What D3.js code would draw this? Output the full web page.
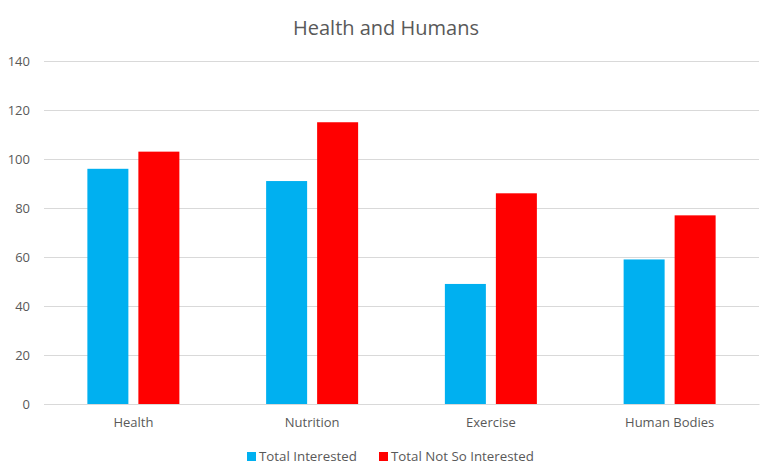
<!DOCTYPE html>
<html><head><meta charset="utf-8">
<script src="https://cdn.jsdelivr.net/npm/d3@7"></script>
<style>body{margin:0;background:#fff}svg{display:block}</style>
</head><body>
<svg id="c" width="768" height="476"></svg>
<script>
const categories = ["Health", "Nutrition", "Exercise", "Human Bodies"];
const seriesNames = ["Total Interested", "Total Not So Interested"];
const interested = [96, 91, 49, 59];
const notInterested = [103, 115, 86, 77];
const yTicks = [0, 20, 40, 60, 80, 100, 120, 140];
const colors = ["#00b0f0", "#ff0000"];

const svg = d3.select("#c");
const font = "'Open Sans', 'Liberation Sans', sans-serif";
const m = {l: 44, r: 9, t: 61, b: 72};
const W = 768, H = 476;
const x0 = d3.scaleBand().domain(categories).range([m.l, W - m.r]).padding(0);
const y = d3.scaleLinear().domain([0, 140]).range([H - m.b, m.t]);
const bw = x0.bandwidth();
const x1 = d3.scaleBand().domain(seriesNames).range([bw/2 - 46, bw/2 + 46]).paddingInner(10/51).paddingOuter(0);

svg.append("text").attr("x", 386).attr("y", 35).attr("text-anchor", "middle")
  .attr("font-family", font).attr("font-size", 20).attr("fill", "#595959").text("Health and Humans");

const yAxis = d3.axisLeft(y).tickValues(yTicks).tickSize(-(W - m.l - m.r)).tickPadding(14);
const gy = svg.append("g").attr("transform", `translate(${m.l},0)`).call(yAxis);
gy.select(".domain").remove();
gy.selectAll(".tick line").attr("stroke", "#d9d9d9").attr("stroke-width", 1);
gy.selectAll(".tick text").attr("font-family", font).attr("font-size", 13).attr("fill", "#595959");

const data = categories.map((c, i) => ({c, vals: [interested[i], notInterested[i]]}));
const g = svg.append("g");
const groups = g.selectAll("g").data(data).join("g").attr("transform", d => `translate(${x0(d.c)},0)`);
groups.selectAll("rect").data(d => d.vals.map((v, j) => ({s: seriesNames[j], v, j})))
  .join("rect")
  .attr("x", d => x1(d.s)).attr("width", x1.bandwidth())
  .attr("y", d => y(d.v)).attr("height", d => y(0) - y(d.v))
  .attr("fill", d => colors[d.j]);

const xAxis = d3.axisBottom(x0).tickSize(0).tickPadding(14);
const gx = svg.append("g").attr("transform", `translate(0,${y(0)})`).call(xAxis);
gx.select(".domain").attr("stroke", "#d9d9d9");
gx.selectAll(".tick text").attr("font-family", font).attr("font-size", 13).attr("fill", "#595959");

const legX = [247, 379];
const leg = svg.append("g");
seriesNames.forEach((s, i) => {
  leg.append("rect").attr("x", legX[i]).attr("y", 452).attr("width", 9).attr("height", 9).attr("fill", colors[i]);
  leg.append("text").attr("x", legX[i] + 12).attr("y", 461).attr("font-family", font).attr("font-size", 13.3)
    .attr("fill", "#595959").text(s);
});
</script>
</body></html>
